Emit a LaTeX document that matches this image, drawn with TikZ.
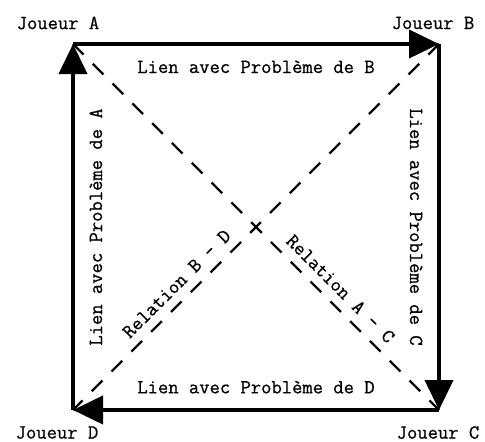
\documentclass[tikz,border=0pt]{standalone}
\usepackage{fontspec}
\usepackage{tikz}
\usetikzlibrary{arrows.meta, positioning}
\newfontfamily\tapuscrit{Latin Modern Mono}[FakeBold=0.7]

\begin{document}
\begin{tikzpicture}[
    font=\tapuscrit\fontsize{11.4}{13}\selectfont,
    lien/.style={-{Triangle[length=0.6cm, width=0.56cm]}, line width=2.3pt},
    relation/.style={dash pattern=on 0.3cm off 0.26cm, line width=1.4pt},
    etiq/.style={sloped, inner sep=0pt}
]
\useasboundingbox (-1.46,-0.62) rectangle (8.24,8.2);

% les quatre joueurs
\coordinate (a) at (0,7.32);
\coordinate (b) at (7.32,7.32);
\coordinate (c) at (7.32,0);
\coordinate (d) at (0,0);

\node (ja) at (-0.30,7.74) {Joueur A};
\node (jb) at (7.20,7.74) {Joueur B};
\node (jc) at (7.30,-0.45) {Joueur C};
\node (jd) at (-0.32,-0.45) {Joueur D};

% relations croisees
\draw[relation] (a) -- (c) node[etiq, pos=0.70, above=0.17cm] (rac) {Relation A - C};
\draw[relation] (b) -- (d) node[etiq, pos=0.686, above=0.17cm] (rbd) {Relation B - D};

% liens autour du carre
\draw[lien] (a) -- (b) node[etiq, midway, below=0.29cm] (lb) {Lien avec Problème de B};
\draw[lien] (b) -- (c) node[etiq, midway, below=0.29cm] (lc) {Lien avec Problème de C};
\draw[lien] (c) -- (d) node[etiq, midway, above=0.29cm] (ld) {Lien avec Problème de D};
\draw[lien] (d) -- (a) node[etiq, midway, below=0.29cm] (la) {Lien avec Problème de A};
\end{tikzpicture}
\end{document}
